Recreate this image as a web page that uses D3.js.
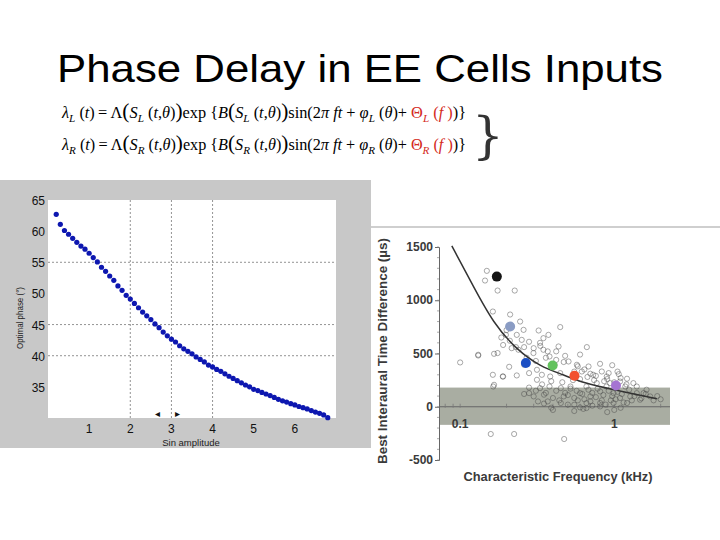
<!DOCTYPE html>
<html>
<head>
<meta charset="utf-8">
<script src="https://cdn.jsdelivr.net/npm/d3@7"></script>
<style>
  body { margin: 0; background: #fff; }
  svg { display: block; }
</style>
</head>
<body>
<svg id="slide" width="720" height="540"></svg>
<script>
// ---- left chart: optimal phase vs sin amplitude
var ampValues = d3.range(2, 69).map(function(d) { return d / 10; });
var phaseValues = [62.7, 61.1, 60.1, 59.5, 58.85, 58.2, 57.6, 57.1, 56.45, 55.75,
  55.05, 54.2, 53.55, 52.8, 52.1, 51.2, 50.5, 49.7, 49.1, 48.4,
  47.7, 47.0, 46.4, 45.8, 45.1, 44.5, 43.8, 43.2, 42.65, 42.2,
  41.6, 41.1, 40.7, 40.3, 39.8, 39.4, 39.0, 38.5, 38.2, 37.8,
  37.5, 37.1, 36.7, 36.35, 36.0, 35.65, 35.3, 35.0, 34.6, 34.4,
  34.1, 33.85, 33.6, 33.3, 33.0, 32.75, 32.55, 32.3, 32.1, 31.85,
  31.65, 31.45, 31.2, 30.95, 30.75, 30.5, 30.05];
var leftXTicks = [1, 2, 3, 4, 5, 6];
var leftYTicks = [35, 40, 45, 50, 55, 60, 65];
var leftXGrid = [2, 3, 4];
var leftYGrid = [40, 45, 55];

// ---- right chart: best ITD vs characteristic frequency
var cellFreq = [0.149, 0.145, 0.175, 0.226, 0.163, 0.211, 0.100, 0.131, 0.166, 0.175,
  0.208, 0.163, 0.189, 0.233, 0.166, 0.245, 0.258, 0.233, 0.251, 0.198,
  0.216, 0.239, 0.323, 0.347, 0.374, 0.446, 0.435, 0.331, 0.299, 0.347,
  0.664, 0.480, 0.505, 0.315, 0.339, 0.315, 0.384, 0.446, 0.572, 0.616,
  0.681, 0.809, 0.894, 1.09, 0.94, 1.18, 0.83, 0.73, 1.40, 1.55,
  1.71, 1.27, 1.09, 0.99, 0.81, 0.70, 0.60, 0.55, 0.47, 0.40,
  0.35, 0.30, 0.28, 0.33, 0.38, 0.45, 0.52, 0.66, 0.77, 0.89,
  0.99, 0.81, 0.66, 0.55, 0.45, 0.37, 0.32, 1.21, 1.47, 1.62,
  1.33, 0.92, 0.26, 0.28, 0.41, 0.38, 0.158, 0.224, 0.473, 0.39,
  0.66, 0.81, 0.164, 0.19, 0.131, 1.07, 1.21, 0.60,
  0.42, 0.48, 0.52, 0.57, 0.62, 0.68, 0.72, 0.78, 0.85, 0.92,
  0.97, 1.05, 1.12, 1.25, 1.35, 1.50, 1.80, 0.44, 0.50, 0.58,
  0.64, 0.70, 0.76, 0.83, 0.88, 0.95, 1.02, 1.15, 1.30, 0.36,
  0.31, 0.28, 0.26, 0.34, 0.39, 0.46, 0.54, 0.60, 0.67, 0.74,
  0.86, 0.90, 1.00, 0.55, 0.64, 0.70, 0.76, 0.58, 0.47, 0.42,
  0.36, 0.31, 0.27, 0.23, 0.21, 0.19, 0.185, 0.20, 0.28, 0.33,
  0.37, 0.42, 0.30, 0.26, 0.60, 0.97, 1.05, 1.10, 1.20, 1.40,
  1.60, 1.90, 2.00, 0.35, 0.40, 0.50, 0.63, 0.72, 0.90, 1.00,
  1.10, 0.55];
var cellItd = [1276, 1185, 1091, 1091, 894, 866, 416, 481, 497, 504,
  375, 300, 284, 294, 206, 800, 722, 675, 628, 675,
  550, 535, 716, 644, 675, 748, 566, 572, 504, 535,
  560, 478, 425, 347, 300, 253, 284, 316, 394, 331,
  378, 403, 284, 237, 222, 190, 331, 300, 128, 128,
  97, 97, 82, 128, 144, 97, 128, 82, 97, 82,
  113, 97, 128, 175, 190, 175, 190, 190, 222, 190,
  35, 35, 35, 19, 35, 50, 50, 35, 66, 160,
  222, 316, 394, 316, 394, 472, -256, -256, -303, -9,
  -12, 3, 190, 284, 488, 306, 263, -6,
  150, 130, 170, 150, 120, 160, 130, 170, 110, 150,
  100, 140, 120, 160, 100, 80, 60, 60, 110, 60,
  70, 50, 90, 60, 20, 60, 70, 40, 60, 130,
  150, 180, 120, 210, 240, 230, 250, 260, 280, 250,
  240, 260, 230, 330, 350, 310, 290, 380, 420, 440,
  460, 430, 460, 560, 620, 580, 650, 720, 610, 600,
  520, 520, 550, 560, 490, 390, 330, 270, 210, 190,
  120, 100, 70, 30, -30, 20, -20, 10, -50, -30,
  -10, -40];
var highlightFreq = [0.173, 0.211, 0.267, 0.398, 0.552, 1.026];
var highlightItd = [1222, 753, 410, 387, 291, 200];
var highlightColors = ["#151515", "#8a9cc4", "#1c4fc4", "#63c25e", "#f2502e", "#a574d2"];
var fitFreq = [0.0883, 0.122, 0.164, 0.233, 0.330, 0.469, 0.632, 0.99, 1.89];
var fitItd = [1510, 1128, 785, 535, 378, 300, 222, 160, 75];
var rightYTicks = [-500, 0, 500, 1000, 1500];
var rightXTicks = [0.1, 1];
var freqExtent = [0.074, 2.3];
var bandRange = [-170, 180];

var svg = d3.select("#slide");

// Title
svg.append("text")
  .attr("x", 57).attr("y", 82)
  .attr("font-family", "Liberation Sans, Arial, sans-serif")
  .attr("font-size", 39)
  .attr("fill", "#000")
  .attr("textLength", 606).attr("lengthAdjust", "spacingAndGlyphs")
  .text("Phase Delay in EE Cells Inputs");

// Equations
function equation(y, side) {
  var t = svg.append("text")
    .attr("x", 62).attr("y", y)
    .attr("font-family", "Liberation Serif, Times New Roman, serif")
    .attr("font-size", 16)
    .attr("fill", "#000");
  var parts = [
    ["λ", "i"], [side, "s"], [" (", ""], ["t", "i"], [")\u2009=\u2009Λ", ""], ["(", "b"],
    ["S", "i"], [side, "s"], [" (", ""], ["t", "i"], [",", ""], ["θ", "i"], [")", ""], [")", "b"],
    ["exp", ""], [" {", ""], ["B", "i"], ["(", "b"], ["S", "i"], [side, "s"], [" (", ""], ["t", "i"],
    [",", ""], ["θ", "i"], [")", ""], [")", "b"], ["sin(2", ""], ["π", "i"], [" ", ""], ["ft", "i"],
    [" + ", ""], ["φ", "i"], [side, "s"], [" (", ""], ["θ", "i"], [")+ ", ""],
    ["Θ", "r"], [side, "rs"], [" (", "r"], ["f ", "ri"], [")", "r"], [")", ""], ["}", ""]
  ];
  var prevSub = false;
  parts.forEach(function(p) {
    var s = t.append("tspan").text(p[0]);
    var sub = p[1].indexOf("s") >= 0;
    if (sub && !prevSub) s.attr("dy", 4).attr("font-size", 11);
    else if (sub) s.attr("font-size", 11);
    else if (prevSub) s.attr("dy", -4);
    if (p[1].indexOf("i") >= 0 || sub) s.attr("font-style", "italic");
    if (p[1].indexOf("r") >= 0) s.attr("fill", "#d42a22");
    if (p[1] === "b") s.attr("font-size", 21);
    prevSub = sub;
  });
  t.attr("textLength", 404).attr("lengthAdjust", "spacingAndGlyphs");
}
equation(118, "L");
equation(150, "R");
svg.append("text")
  .attr("x", 472).attr("y", 153)
  .attr("font-family", "DejaVu Serif, serif")
  .attr("font-weight", "200")
  .attr("font-size", 50)
  .attr("fill", "#333")
  .text("}");

// ---------------- left chart ----------------
var xL = d3.scaleLinear().domain([0, 7]).range([48, 336]);
var yL = d3.scaleLinear().domain([30, 65]).range([418, 200]);

svg.append("rect")
  .attr("x", 0).attr("y", 180).attr("width", 371).attr("height", 268)
  .attr("fill", "#c8c8c8");
svg.append("rect")
  .attr("x", xL(0)).attr("y", yL(65))
  .attr("width", xL(7) - xL(0)).attr("height", yL(30) - yL(65))
  .attr("fill", "#fff");

var gridL = svg.append("g")
  .attr("stroke", "#777").attr("stroke-width", 0.8).attr("stroke-dasharray", "2,2");
gridL.selectAll("line.vx").data(leftXGrid).enter().append("line")
  .attr("x1", function(d) { return xL(d); }).attr("x2", function(d) { return xL(d); })
  .attr("y1", yL(65)).attr("y2", yL(30));
gridL.selectAll("line.hy").data(leftYGrid).enter().append("line")
  .attr("x1", xL(0)).attr("x2", xL(7))
  .attr("y1", function(d) { return yL(d); }).attr("y2", function(d) { return yL(d); });

svg.selectAll("text.lx").data(leftXTicks).enter().append("text")
  .attr("x", function(d) { return xL(d); }).attr("y", 433)
  .attr("text-anchor", "middle")
  .attr("font-family", "Liberation Sans, Arial, sans-serif")
  .attr("font-size", 12).attr("fill", "#111")
  .text(function(d) { return d; });
svg.selectAll("text.ly").data(leftYTicks).enter().append("text")
  .attr("x", 45).attr("y", function(d) { return yL(d) + 5; })
  .attr("text-anchor", "end")
  .attr("font-family", "Liberation Sans, Arial, sans-serif")
  .attr("font-size", 12).attr("fill", "#111")
  .text(function(d) { return d; });

svg.append("text")
  .attr("x", 191).attr("y", 446)
  .attr("text-anchor", "middle")
  .attr("font-family", "Liberation Sans, Arial, sans-serif")
  .attr("font-size", 9.5).attr("fill", "#222")
  .text("Sin amplitude");
svg.append("text")
  .attr("transform", "translate(23,318) rotate(-90)")
  .attr("text-anchor", "middle")
  .attr("font-family", "Liberation Sans, Arial, sans-serif")
  .attr("font-size", 9.5).attr("fill", "#222")
  .attr("textLength", 62).attr("lengthAdjust", "spacingAndGlyphs")
  .text("Optimal phase (°)");
svg.append("text")
  .attr("x", 157).attr("y", 417).attr("text-anchor", "middle")
  .attr("font-size", 10).attr("fill", "#111").text("◂");
svg.append("text")
  .attr("x", 177).attr("y", 417).attr("text-anchor", "middle")
  .attr("font-size", 10).attr("fill", "#111").text("▸");

svg.append("g").selectAll("circle").data(ampValues).enter().append("circle")
  .attr("cx", function(d) { return xL(d); })
  .attr("cy", function(d, i) { return yL(phaseValues[i]); })
  .attr("r", 2.6)
  .attr("fill", "#0d17b0");

// ---------------- right chart ----------------
var xR = d3.scaleLog().domain(freqExtent).range([440, 670]);
var yR = d3.scaleLinear().domain([-500, 1500]).range([460, 247]);

svg.append("line")
  .attr("x1", 371).attr("x2", 720).attr("y1", 227).attr("y2", 227)
  .attr("stroke", "#cfcfcf").attr("stroke-width", 2);

svg.append("rect")
  .attr("x", xR(freqExtent[0])).attr("y", yR(bandRange[1]))
  .attr("width", xR(freqExtent[1]) - xR(freqExtent[0]))
  .attr("height", yR(bandRange[0]) - yR(bandRange[1]))
  .attr("fill", "#a9ada2");

svg.append("line")
  .attr("x1", xR(freqExtent[0])).attr("x2", xR(freqExtent[1]))
  .attr("y1", yR(0)).attr("y2", yR(0))
  .attr("stroke", "#666").attr("stroke-width", 1);

var minorFreq = [0.08, 0.09, 0.1, 0.2, 0.3, 0.4, 0.5, 0.6, 0.7, 0.8, 0.9, 1, 2];
svg.append("g").selectAll("line").data(minorFreq).enter().append("line")
  .attr("x1", function(d) { return xR(d); }).attr("x2", function(d) { return xR(d); })
  .attr("y1", yR(0) - 3).attr("y2", yR(0) + 1)
  .attr("stroke", "#777").attr("stroke-width", 0.8);

// y axis
var axisR = svg.append("g").attr("transform", "translate(439,0)")
  .call(d3.axisLeft(yR).tickValues(rightYTicks).tickSize(4).tickFormat(""));
axisR.select(".domain").attr("stroke", "#666");
axisR.selectAll(".tick line").attr("stroke", "#666");
var minorItd = d3.range(-500, 1501, 100);
svg.append("g").selectAll("line").data(minorItd).enter().append("line")
  .attr("x1", 437).attr("x2", 439)
  .attr("y1", function(d) { return yR(d); }).attr("y2", function(d) { return yR(d); })
  .attr("stroke", "#888").attr("stroke-width", 0.7);

svg.selectAll("text.ry").data(rightYTicks).enter().append("text")
  .attr("x", 433).attr("y", function(d) { return yR(d) + 4; })
  .attr("text-anchor", "end")
  .attr("font-family", "Liberation Sans, Arial, sans-serif")
  .attr("font-weight", "bold")
  .attr("font-size", 12).attr("fill", "#3a3a3a")
  .text(function(d) { return d; });
svg.selectAll("text.rx").data(rightXTicks).enter().append("text")
  .attr("x", function(d) { return xR(d); }).attr("y", 428)
  .attr("text-anchor", "middle")
  .attr("font-family", "Liberation Sans, Arial, sans-serif")
  .attr("font-weight", "bold")
  .attr("font-size", 12).attr("fill", "#3a3a3a")
  .text(function(d) { return d; });

svg.append("text")
  .attr("x", 558).attr("y", 481)
  .attr("text-anchor", "middle")
  .attr("font-family", "Liberation Sans, Arial, sans-serif")
  .attr("font-weight", "bold")
  .attr("font-size", 12).attr("fill", "#3a3a3a")
  .attr("textLength", 189).attr("lengthAdjust", "spacingAndGlyphs")
  .text("Characteristic Frequency (kHz)");
svg.append("text")
  .attr("transform", "translate(387,351) rotate(-90)")
  .attr("text-anchor", "middle")
  .attr("font-family", "Liberation Sans, Arial, sans-serif")
  .attr("font-weight", "bold")
  .attr("font-size", 12).attr("fill", "#3a3a3a")
  .attr("textLength", 226).attr("lengthAdjust", "spacingAndGlyphs")
  .text("Best Interaural Time Difference (µs)");

// open circles
svg.append("g").selectAll("circle").data(cellFreq).enter().append("circle")
  .attr("cx", function(d) { return xR(d); })
  .attr("cy", function(d, i) { return yR(cellItd[i]); })
  .attr("r", 2.6)
  .attr("fill", "none")
  .attr("stroke", "#4a4a4a").attr("stroke-opacity", 0.6).attr("stroke-width", 0.8);

// fit curve
var fitLine = d3.line()
  .x(function(d) { return xR(d); })
  .y(function(d, i) { return yR(fitItd[i]); })
  .curve(d3.curveBasis);
svg.append("path")
  .attr("d", fitLine(fitFreq))
  .attr("fill", "none").attr("stroke", "#333").attr("stroke-width", 1.5);

// highlighted cells
svg.append("g").selectAll("circle").data(highlightFreq).enter().append("circle")
  .attr("cx", function(d) { return xR(d); })
  .attr("cy", function(d, i) { return yR(highlightItd[i]); })
  .attr("r", 5)
  .attr("fill", function(d, i) { return highlightColors[i]; });
</script>
</body>
</html>
